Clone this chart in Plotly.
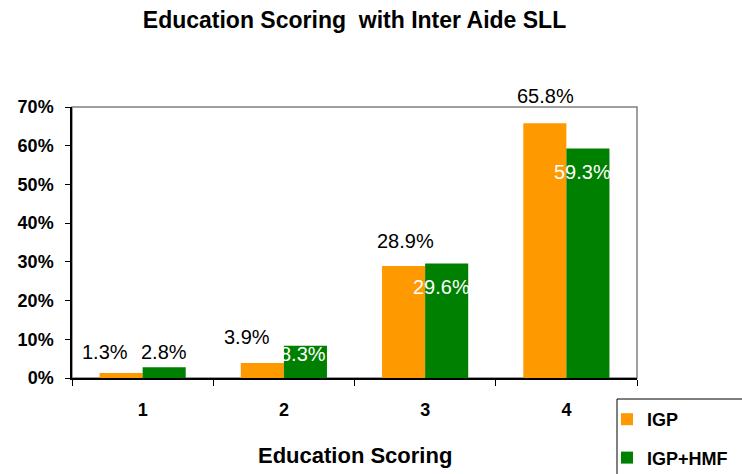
import plotly.graph_objects as go

# Data
categories = ["1", "2", "3", "4"]
igp = [1.3, 3.9, 28.9, 65.8]
igp_hmf = [2.8, 8.3, 29.6, 59.3]
series_names = ["IGP", "IGP+HMF"]
colors = ["#FF9900", "#008000"]

# Data-label placement (pixel offsets from each bar's category centre / value)
igp_label_dx = [-38, -37, -20, -21]
igp_label_dy = [21, 26, 25, 27]
hmf_label_dx = [21, 19, 16, 16]
hmf_label_dy = [15, -8, -24, -24]
hmf_label_colors = ["black", "white", "white", "white"]

FONT = "Liberation Sans, Arial, sans-serif"

# Plot-area geometry in pixels
W, H = 742, 474
L, R, T, B = 72, 105, 107, 96
PW, PH = W - L - R, H - T - B

fig = go.Figure()
fig.add_trace(go.Bar(x=categories, y=igp, name=series_names[0],
                     marker=dict(color=colors[0], line=dict(width=0)),
                     legendgroup="a"))
fig.add_trace(go.Bar(x=categories, y=igp_hmf, name=series_names[1],
                     marker=dict(color=colors[1], line=dict(width=0)),
                     legendgroup="b"))

annotations = []
for i in range(len(categories)):
    # on a category axis a numeric x is the category's index
    annotations.append(dict(x=i, y=igp[i], xref="x", yref="y",
                            text=f"{igp[i]:.1f}%", showarrow=False,
                            xshift=igp_label_dx[i], yshift=igp_label_dy[i],
                            font=dict(family=FONT, size=20, color="black")))
    annotations.append(dict(x=i, y=igp_hmf[i], xref="x", yref="y",
                            text=f"{igp_hmf[i]:.1f}%", showarrow=False,
                            xshift=hmf_label_dx[i], yshift=hmf_label_dy[i],
                            font=dict(family=FONT, size=20, color=hmf_label_colors[i])))

# x-axis title
annotations.append(dict(x=0.5, y=0, xref="paper", yref="paper", yshift=-77,
                        text="<b>Education Scoring</b>", showarrow=False,
                        yanchor="middle",
                        font=dict(family=FONT, size=22, color="black")))

def px_x(p):
    return (p - L) / PW

def px_y(p):
    return (H - B - p) / PH

fig.update_layout(
    width=W, height=H,
    margin=dict(l=L, r=R, t=T, b=B, autoexpand=False),
    paper_bgcolor="white", plot_bgcolor="white",
    barmode="group", bargap=0.39, bargroupgap=0,
    font=dict(family=FONT, color="black"),
    title=dict(text="<b>Education Scoring  with Inter Aide SLL</b>",
               xref="paper", x=0.5, xanchor="center",
               yref="container", y=1 - 20 / H, yanchor="middle",
               font=dict(family=FONT, size=23, color="black")),
    showlegend=True,
    legend=dict(xref="container", yref="container",
                x=607 / W, y=1 - 401 / H, xanchor="left", yanchor="top",
                borderwidth=0, bgcolor="rgba(0,0,0,0)",
                font=dict(family=FONT, size=18, color="black", weight="bold"),
                tracegroupgap=12, itemwidth=30),
    annotations=annotations,
    shapes=[
        # grey frame around the plot area
        dict(type="rect", xref="paper", yref="paper", x0=0, x1=1, y0=0, y1=1,
             line=dict(color="#808080", width=1.5), layer="below"),
        # legend box
        dict(type="rect", xref="paper", yref="paper",
             x0=px_x(617), x1=px_x(750), y0=px_y(399), y1=px_y(480),
             line=dict(color="black", width=1), fillcolor="white", layer="below"),
    ],
)

fig.update_xaxes(
    type="category", tickson="boundaries", ticks="outside", ticklen=6,
    tickcolor="black", showline=True, linecolor="black", linewidth=1.5,
    showgrid=False, ticklabelstandoff=15, automargin=False,
    range=[-0.5, 3.5],
    tickfont=dict(family=FONT, size=18, color="black", weight="bold"),
)
fig.update_yaxes(
    range=[0, 70], dtick=10, ticksuffix="%", ticks="outside", ticklen=5,
    tickcolor="black", showline=True, linecolor="black", linewidth=1.5,
    showgrid=False, zeroline=False, ticklabelstandoff=8, automargin=False,
    tickfont=dict(family=FONT, size=18, color="black", weight="bold"),
)

fig.write_html("out.html")
